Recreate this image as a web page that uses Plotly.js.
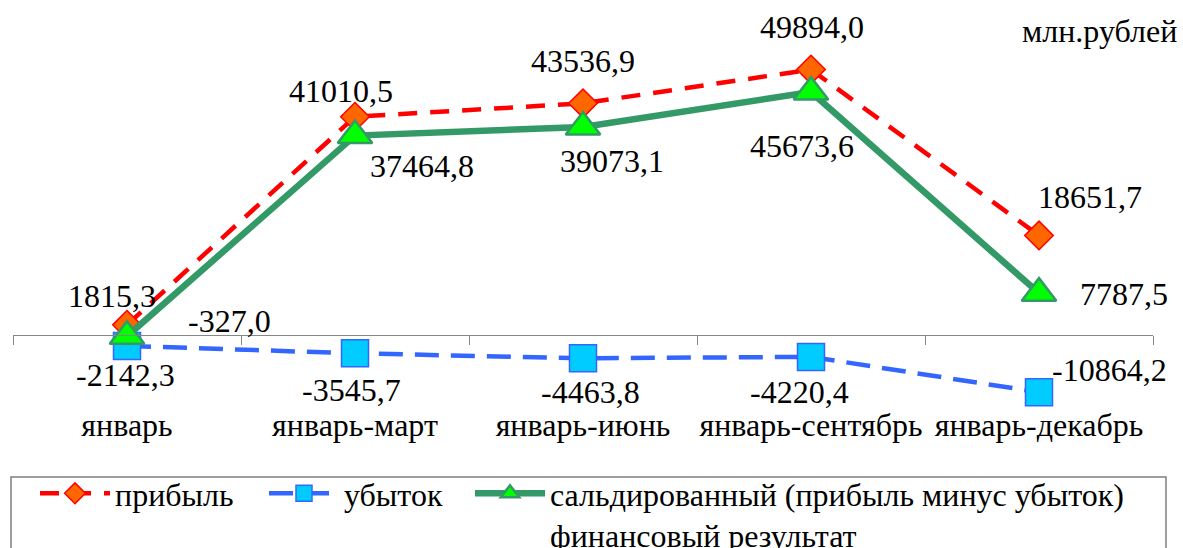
<!DOCTYPE html>
<html><head><meta charset="utf-8">
<script src="https://cdn.plot.ly/plotly-3.0.1.min.js"></script>
<style>body{margin:0;background:#fff}</style>
</head><body><div id="chart" style="width:1183px;height:548px"></div>
<script>
const categories = ['январь','январь-март','январь-июнь','январь-сентябрь','январь-декабрь'];
const profit = [1815.3, 41010.5, 43536.9, 49894.0, 18651.7];
const loss = [-2142.3, -3545.7, -4463.8, -4220.4, -10864.2];
const balance = [-327.0, 37464.8, 39073.1, 45673.6, 7787.5];
const seriesNames = ['прибыль', 'убыток', 'сальдированный (прибыль минус убыток)<br>финансовый результат'];
const unitLabel = 'млн.рублей';

const fmt = v => v.toFixed(1).replace('.', ',');
const FONT = 'Times New Roman, Liberation Serif, serif';
const FS = 32;
const yMin = -16100, yMax = 63000;

// label offsets in px (style only)
const profitShift = [[-15,29],[-14,26],[0,42],[1,43],[51,38]];
const lossShift = [[-2,-29],[-4,-37],[7,-34],[-12,-35],[70,22]];
const balShift = [[102,15],[67,-30],[29,-34],[-9,-54],[85,-1]];

const traces = [
  {x: categories, y: profit, name: seriesNames[0], type: 'scatter', mode: 'lines+markers',
   line: {color: '#FF0000', width: 4.5, dash: '19px,13px'},
   marker: {symbol: 'diamond', size: 22, color: '#FF6600', line: {color: '#FF0000', width: 1.5}},
   legend: 'legend', cliponaxis: false},
  {x: categories, y: loss, name: seriesNames[1], type: 'scatter', mode: 'lines+markers',
   line: {color: '#3366FF', width: 4.5, dash: '24px,12px'},
   marker: {symbol: 'square', size: 27, color: '#00CCFF', line: {color: '#3366FF', width: 1.5}},
   legend: 'legend2', cliponaxis: false},
  {x: categories, y: balance, name: seriesNames[2], type: 'scatter', mode: 'lines+markers',
   line: {color: '#339966', width: 6.5},
   marker: {symbol: 'triangle-up', size: 30, color: '#00FF00', line: {color: '#339966', width: 2.5}},
   legend: 'legend3', cliponaxis: false}
];

const annotations = [];
function addLabels(vals, shifts) {
  vals.forEach((v, i) => annotations.push({
    x: categories[i], y: v, xref: 'x', yref: 'y', text: fmt(v), showarrow: false,
    xshift: shifts[i][0], yshift: shifts[i][1],
    font: {family: FONT, size: FS, color: '#000'}
  }));
}
addLabels(profit, profitShift);
addLabels(loss, lossShift);
addLabels(balance, balShift);

const PH = 420, PW = 1140, ML = 13;
const px = X => (X - ML) / PW;
const py = Y => (PH - Y) / PH;
annotations.push({xref: 'paper', yref: 'paper', x: px(1179), y: py(31), xanchor: 'right', yanchor: 'middle',
  text: unitLabel, showarrow: false, font: {family: FONT, size: FS, color: '#000'}});

const legFont = {family: FONT, size: FS, color: '#000'};
const legBase = {orientation: 'h', font: legFont, bgcolor: 'rgba(0,0,0,0)', borderwidth: 0,
  xanchor: 'left', yanchor: 'top', valign: 'top', itemwidth: 70, tracegroupgap: 0};

const layout = {
  width: 1183, height: 548,
  font: {family: FONT, size: FS, color: '#000'},
  margin: {l: ML, r: 1183 - ML - PW, t: 0, b: 548 - PH, autoexpand: false},
  paper_bgcolor: '#fff', plot_bgcolor: '#fff',
  showlegend: true,
  xaxis: {type: 'category', range: [-0.5, 4.5], anchor: 'free', position: (0 - yMin) / (yMax - yMin),
    showline: true, linecolor: '#868686', linewidth: 1, ticks: 'outside', ticklen: 9, tickcolor: '#868686',
    tickson: 'boundaries', showgrid: false, zeroline: false, ticklabelstandoff: 62, tickangle: 0,
    tickfont: {family: FONT, size: FS, color: '#000'}},
  yaxis: {range: [yMin, yMax], visible: false, showgrid: false, zeroline: false},
  legend: Object.assign({}, legBase, {x: px(35), y: py(466)}),
  legend2: Object.assign({}, legBase, {x: px(264), y: py(466)}),
  legend3: Object.assign({}, legBase, {x: px(470), y: py(466)}),
  shapes: [{type: 'rect', xref: 'paper', yref: 'paper', x0: px(11), x1: px(1166), y0: py(477), y1: py(600),
    line: {color: '#7F7F7F', width: 1.5}, fillcolor: 'rgba(0,0,0,0)', layer: 'above'}],
  annotations: annotations
};

Plotly.newPlot('chart', traces, layout, {displayModeBar: false});
</script></body></html>
